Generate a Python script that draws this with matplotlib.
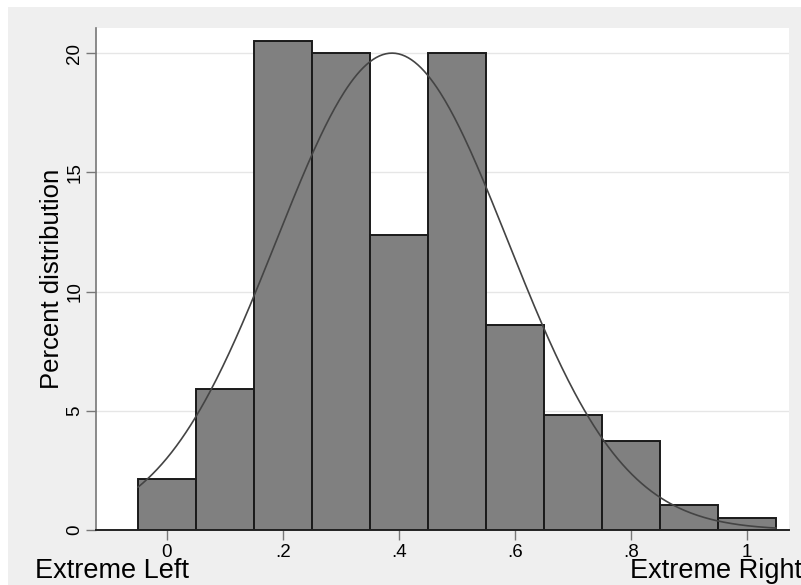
import numpy as np
import matplotlib
matplotlib.use('Agg')
import matplotlib.pyplot as plt
from matplotlib.patches import Rectangle

plt.rcParams['font.family'] = ['Liberation Sans', 'DejaVu Sans']

# histogram bins (width 0.1) and percent heights
bin_edges = [-0.05, 0.05, 0.15, 0.25, 0.35, 0.45, 0.55, 0.65, 0.75, 0.85, 0.95, 1.05]
percents = [2.13, 5.9, 20.5, 20.0, 12.37, 20.0, 8.58, 4.84, 3.75, 1.03, 0.49]

# normal overlay parameters
mu = 0.388
sigma = 0.1995
bin_width = 0.1

xticks = [0, 0.2, 0.4, 0.6, 0.8, 1.0]
xticklabels = ['0', '.2', '.4', '.6', '.8', '1']
yticks = [0, 5, 10, 15, 20]

fig = plt.figure(figsize=(8.01, 5.85), dpi=100)
fig.patch.set_facecolor('white')
# stata-ish grey outer region
fig.patches.append(Rectangle((8/801, 0), 1, 1 - 7/585, transform=fig.transFigure,
                             facecolor='#efefef', edgecolor='none', zorder=-10))

ax = fig.add_axes([96/801, 55/585, (789-96)/801, (530-28)/585])
ax.set_facecolor('white')

lefts = np.array(bin_edges[:-1])
ax.bar(lefts, percents, width=np.diff(bin_edges), align='edge',
       color='#808080', edgecolor='#1a1a1a', linewidth=1.4, zorder=2)

xs = np.linspace(bin_edges[0], bin_edges[-1], 400)
ys = 100 * bin_width * np.exp(-0.5 * ((xs - mu) / sigma) ** 2) / (sigma * np.sqrt(2 * np.pi))
ax.plot(xs, ys, color='#444444', linewidth=1.2, zorder=3)

ax.set_xlim(-0.1224, 1.0724)
ax.set_ylim(0, 21.05)
ax.set_xticks(xticks)
ax.set_xticklabels(xticklabels)
ax.set_yticks(yticks)
ax.set_yticklabels([str(t) for t in yticks], rotation=90, va='center')

for t in yticks[1:]:
    ax.axhline(t, color='#e6e6e6', linewidth=1, zorder=1)

for s in ['top', 'right']:
    ax.spines[s].set_visible(False)
ax.spines['left'].set_color('#777777')
ax.spines['left'].set_linewidth(1.2)
ax.spines['bottom'].set_color('#222222')
ax.spines['bottom'].set_linewidth(1.4)

ax.tick_params(axis='both', direction='out', length=7, width=1, color='#777777',
               labelsize=13.5, labelcolor='black')
ax.tick_params(axis='y', pad=2)
ax.tick_params(axis='x', pad=3)

ax.set_ylabel('Percent distribution', fontsize=18.5, labelpad=2)

fig.text(35/801, 1 - 578/585, 'Extreme Left', fontsize=19.5, va='baseline', ha='left')
fig.text(630/801, 1 - 578/585, 'Extreme Right', fontsize=19.5, va='baseline', ha='left')

fig.savefig('out.png', dpi=100, facecolor=fig.get_facecolor())
